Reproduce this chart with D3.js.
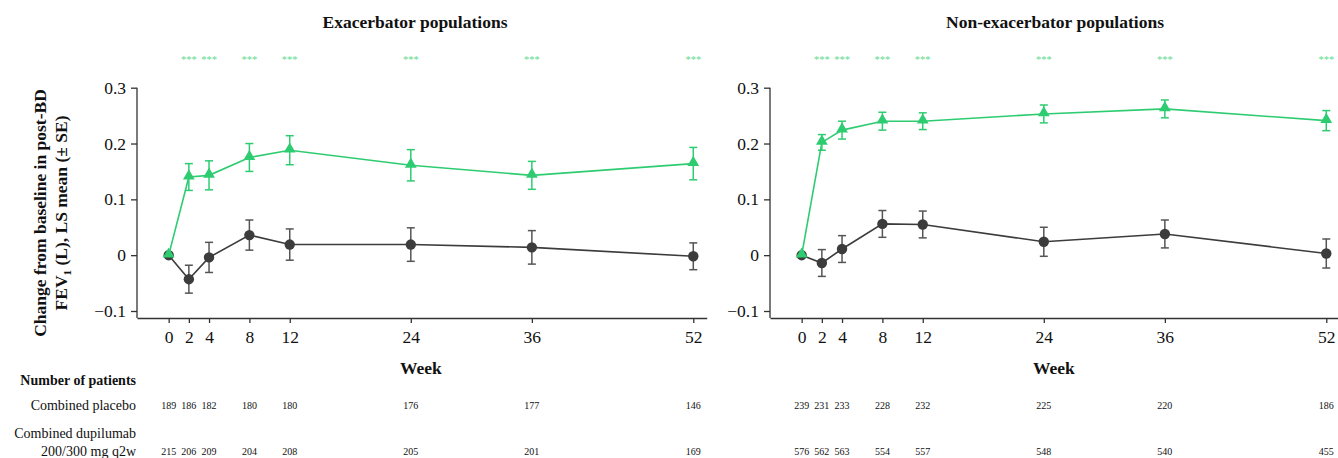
<!DOCTYPE html>
<html><head><meta charset="utf-8">
<script src="https://cdn.jsdelivr.net/npm/d3@7"></script>
<style>body{margin:0;background:#fff}svg{display:block}text{font-family:"Liberation Serif","Times New Roman",serif}</style>
</head><body>
<svg id="c" width="1338" height="458"></svg>
<script>
const weeks = [0, 2, 4, 8, 12, 24, 36, 52];
const yTicks = [-0.1, 0, 0.1, 0.2, 0.3];
const yTickLabels = ["\u22120.1", "0", "0.1", "0.2", "0.3"];
const starWeeks = [2, 4, 8, 12, 24, 36, 52];

const titles = ["Exacerbator populations", "Non-exacerbator populations"];

// Exacerbator
const exPlacebo = [0, -0.043, -0.004, 0.036, 0.019, 0.019, 0.014, -0.002];
const exPlaceboSE = [0, 0.025, 0.027, 0.027, 0.028, 0.030, 0.030, 0.024];
const exDupi = [0, 0.140, 0.143, 0.175, 0.188, 0.161, 0.143, 0.164];
const exDupiSE = [0, 0.024, 0.026, 0.025, 0.026, 0.028, 0.025, 0.029];
const exNPlacebo = [189, 186, 182, 180, 180, 176, 177, 146];
const exNDupi = [215, 206, 209, 204, 208, 205, 201, 169];

// Non-exacerbator
const nonPlacebo = [0, -0.014, 0.011, 0.056, 0.055, 0.024, 0.038, 0.003];
const nonPlaceboSE = [0, 0.024, 0.024, 0.024, 0.024, 0.026, 0.025, 0.026];
const nonDupi = [0, 0.202, 0.224, 0.240, 0.240, 0.253, 0.262, 0.241];
const nonDupiSE = [0, 0.014, 0.016, 0.016, 0.015, 0.016, 0.016, 0.018];
const nonNPlacebo = [239, 231, 233, 228, 232, 225, 220, 186];
const nonNDupi = [576, 562, 563, 554, 557, 548, 540, 455];

const panels = [
  {title: titles[0], pl: exPlacebo, plSE: exPlaceboSE, du: exDupi, duSE: exDupiSE, nP: exNPlacebo, nD: exNDupi, x0: 137, tx: 415},
  {title: titles[1], pl: nonPlacebo, plSE: nonPlaceboSE, du: nonDupi, duSE: nonDupiSE, nP: nonNPlacebo, nD: nonNDupi, x0: 770, tx: 1055}
];

const GREEN = "#2ecc71", STAR = "#5fda90", GRAY = "#3c3c3c", EGRAY = "#555";
const svg = d3.select("#c");

const y = d3.scaleLinear().domain([-0.1, 0.3]).range([311, 87.7]);

panels.forEach((p, pi) => {
  const x = d3.scaleLinear().domain([-3.14, 53.33]).range([p.x0, p.x0 + 569.7]);
  const g = svg.append("g");

  // y axis
  const ya = g.append("g").attr("transform", `translate(${p.x0},0)`)
    .call(d3.axisLeft(y).tickValues(yTicks).tickFormat((d, i) => yTickLabels[i]).tickSize(6).tickPadding(5).tickSizeOuter(0));
  ya.select(".domain").attr("d", `M0,${y(0.3)}V318`);
  // x axis
  const xa = g.append("g").attr("transform", `translate(0,318)`)
    .call(d3.axisBottom(x).tickValues(weeks).tickFormat(d3.format("d")).tickSize(5).tickPadding(8).tickSizeOuter(0));
  [ya, xa].forEach(a => {
    a.selectAll("path,line").attr("stroke", "#333").attr("stroke-width", 1.3);
    a.selectAll("text").attr("font-size", 17.5).attr("fill", "#111");
  });

  // title
  g.append("text").attr("x", p.tx).attr("y", 28).attr("text-anchor", "middle")
    .attr("font-weight", "bold").attr("font-size", 17.5).attr("fill", "#111").text(p.title);
  // Week label
  g.append("text").attr("x", x(24) + 10).attr("y", 374).attr("text-anchor", "middle")
    .attr("font-weight", "bold").attr("font-size", 17.5).attr("fill", "#111").text("Week");

  // stars
  g.selectAll(".star").data(starWeeks).join("text")
    .attr("x", d => x(d)).attr("y", 63).attr("text-anchor", "middle")
    .attr("font-size", 10.5).attr("fill", STAR).text("***");

  const series = [
    {v: p.pl, se: p.plSE, color: GRAY, ecolor: EGRAY, kind: "circle"},
    {v: p.du, se: p.duSE, color: GREEN, ecolor: GREEN, kind: "tri"}
  ];
  series.forEach(s => {
    const pts = weeks.map((w, i) => ({w, v: s.v[i], se: s.se[i]}));
    g.append("path").datum(pts).attr("fill", "none").attr("stroke", s.color).attr("stroke-width", 1.6)
      .attr("d", d3.line().x(d => x(d.w)).y(d => y(d.v)));
    const eb = g.append("g").attr("stroke", s.ecolor).attr("stroke-width", 1.5);
    pts.filter(d => d.se > 0).forEach(d => {
      const cx = x(d.w);
      eb.append("line").attr("x1", cx).attr("x2", cx).attr("y1", y(d.v + d.se)).attr("y2", y(d.v - d.se));
      eb.append("line").attr("x1", cx - 4).attr("x2", cx + 4).attr("y1", y(d.v + d.se)).attr("y2", y(d.v + d.se));
      eb.append("line").attr("x1", cx - 4).attr("x2", cx + 4).attr("y1", y(d.v - d.se)).attr("y2", y(d.v - d.se));
    });
    if (s.kind === "circle") {
      g.selectAll(null).data(pts).join("circle").attr("cx", d => x(d.w)).attr("cy", d => y(d.v))
        .attr("r", 5.2).attr("fill", s.color);
    } else {
      const sym = d3.symbol().type(d3.symbolTriangle).size(60);
      g.selectAll(null).data(pts).join("path").attr("d", sym)
        .attr("transform", d => `translate(${x(d.w)},${y(d.v) - 1})`).attr("fill", s.color);
    }
  });

  // patient numbers
  g.selectAll(null).data(weeks).join("text").attr("x", d => x(d)).attr("y", 409)
    .attr("text-anchor", "middle").attr("font-size", 10).attr("fill", "#111").text((d, i) => p.nP[i]);
  g.selectAll(null).data(weeks).join("text").attr("x", d => x(d)).attr("y", 455)
    .attr("text-anchor", "middle").attr("font-size", 10).attr("fill", "#111").text((d, i) => p.nD[i]);
});

// y axis title
const yt = svg.append("text").attr("transform", "translate(46,213) rotate(-90)")
  .attr("text-anchor", "middle").attr("font-weight", "bold").attr("font-size", 17.5).attr("fill", "#111");
yt.append("tspan").attr("x", 0).attr("dy", 0).text("Change from baseline in post-BD");
yt.append("tspan").attr("x", 0).attr("dy", 21).text("FEV");
yt.append("tspan").attr("dy", 4).attr("font-size", 11).text("1");
yt.append("tspan").attr("dy", -4).text(" (L), LS mean (\u00b1 SE)");

// row labels
svg.append("text").attr("x", 136).attr("y", 385).attr("text-anchor", "end").attr("font-weight", "bold").attr("font-size", 14).attr("fill", "#111").text("Number of patients");
svg.append("text").attr("x", 136).attr("y", 410).attr("text-anchor", "end").attr("font-size", 14).attr("fill", "#111").text("Combined placebo");
svg.append("text").attr("x", 136).attr("y", 438).attr("text-anchor", "end").attr("font-size", 14).attr("fill", "#111").text("Combined dupilumab");
svg.append("text").attr("x", 136).attr("y", 456).attr("text-anchor", "end").attr("font-size", 14).attr("fill", "#111").text("200/300 mg q2w");
</script>
</body></html>
